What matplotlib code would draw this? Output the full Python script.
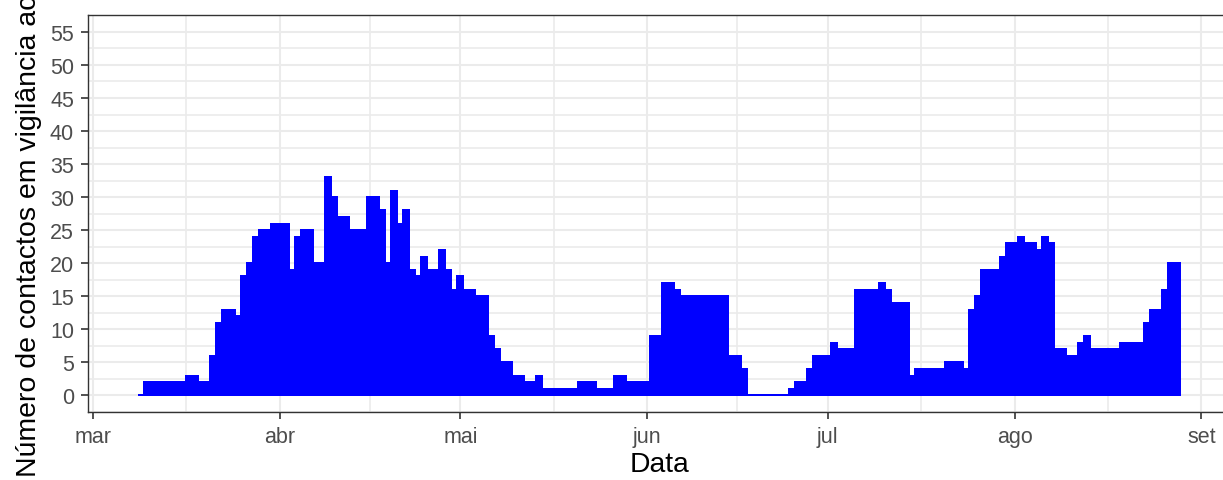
import matplotlib
matplotlib.use("Agg")
import matplotlib.pyplot as plt
import matplotlib.dates as mdates
import numpy as np
import pandas as pd

plt.rcParams['font.family'] = ['Liberation Sans', 'DejaVu Sans']

# ---- data ----
start_date = "2020-03-09"
contacts = [
    0,                      # Mar 9
    2, 2, 2, 2, 2, 2, 2,    # Mar 10-16
    3, 3,                   # Mar 17-18
    2, 2,                   # Mar 19-20
    6, 11, 13, 13, 12, 18, 20, 24, 25, 25, 26,   # Mar 21-31
    26, 26, 19, 24, 25, 25, 20, 20, 33, 30,      # Apr 1-10
    27, 27, 25, 25, 25, 30, 30, 28, 20, 31,      # Apr 11-20
    26, 28, 19, 18, 21, 19, 19, 22, 19, 16,      # Apr 21-30
    18, 16, 16, 15, 15, 9, 7, 5, 5, 3,           # May 1-10
    3, 2, 2, 3, 1, 1, 1, 1, 1, 1,                # May 11-20
    2, 2, 2, 1, 1, 1, 3, 3, 2, 2, 2,             # May 21-31
    2, 9, 9, 17, 17, 16, 15, 15, 15, 15,         # Jun 1-10
    15, 15, 15, 15, 6, 6, 4, 0, 0, 0,            # Jun 11-20
    0, 0, 0, 0, 1, 2, 2, 4, 6, 6,                # Jun 21-30
    6, 8, 7, 7, 7, 16, 16, 16, 16, 17,           # Jul 1-10
    16, 14, 14, 14, 3, 4, 4, 4, 4, 4,            # Jul 11-20
    5, 5, 5, 4, 13, 15, 19, 19, 19, 21, 23,      # Jul 21-31
    23, 24, 23, 23, 22, 24, 23, 7, 7, 6,         # Aug 1-10
    6, 8, 9, 7, 7, 7, 7, 7, 8, 8,                # Aug 11-20
    8, 8, 11, 13, 13, 16, 20, 20,                # Aug 21-28
]
month_ticks = ["2020-03-01", "2020-04-01", "2020-05-01", "2020-06-01",
               "2020-07-01", "2020-08-01", "2020-09-01"]
month_labels = ["mar", "abr", "mai", "jun", "jul", "ago", "set"]
y_ticks = list(range(0, 60, 5))

dates = pd.date_range(start_date, periods=len(contacts), freq="D")

# ---- figure ----
W, H = 1223, 481
fig = plt.figure(figsize=(W / 100, H / 100), dpi=100)
left, right, top, bottom = 88, 1232, 15.7, 413
ax = fig.add_axes([left / W, (H - bottom) / H, (right - left) / W, (bottom - top) / H])

xd = mdates.date2num(dates)
ax.bar(xd, contacts, width=1.0, color="#0000FF", edgecolor="#0000FF",
       linewidth=0.3, antialiased=False, zorder=3)

tick_nums = mdates.date2num(pd.to_datetime(month_ticks))
x0 = tick_nums[0]
ax.set_xlim(x0 - 0.83, x0 + 189.1)
ax.set_ylim(-2.4, 57.6)

ax.set_xticks(tick_nums)
ax.set_xticklabels(month_labels)
minor_x = (tick_nums[:-1] + tick_nums[1:]) / 2
ax.set_xticks(minor_x, minor=True)
ax.set_yticks(y_ticks)
ax.set_yticks(np.arange(-2.5, 60, 5), minor=True)

ax.grid(which="major", color="#EBEBEB", linewidth=1.5, zorder=0)
ax.grid(which="minor", color="#EBEBEB", linewidth=1.2, zorder=0)
ax.set_axisbelow(True)

for s in ["left", "bottom", "top"]:
    ax.spines[s].set_color("#333333")
    ax.spines[s].set_linewidth(1.0)
ax.spines["right"].set_visible(False)

ax.tick_params(axis="both", which="major", color="#333333", width=1.2,
               length=5, labelsize=15.5, labelcolor="#4D4D4D")
ax.tick_params(axis="both", which="minor", length=0)
ax.tick_params(axis="y", pad=5)
ax.tick_params(axis="x", pad=5)

ax.set_xlabel("Data", fontsize=20.3, color="black", labelpad=3)
ax.set_ylabel("Número de contactos em vigilância activa", fontsize=20.5,
              color="black", labelpad=6)

fig.savefig("out.png", dpi=100)
